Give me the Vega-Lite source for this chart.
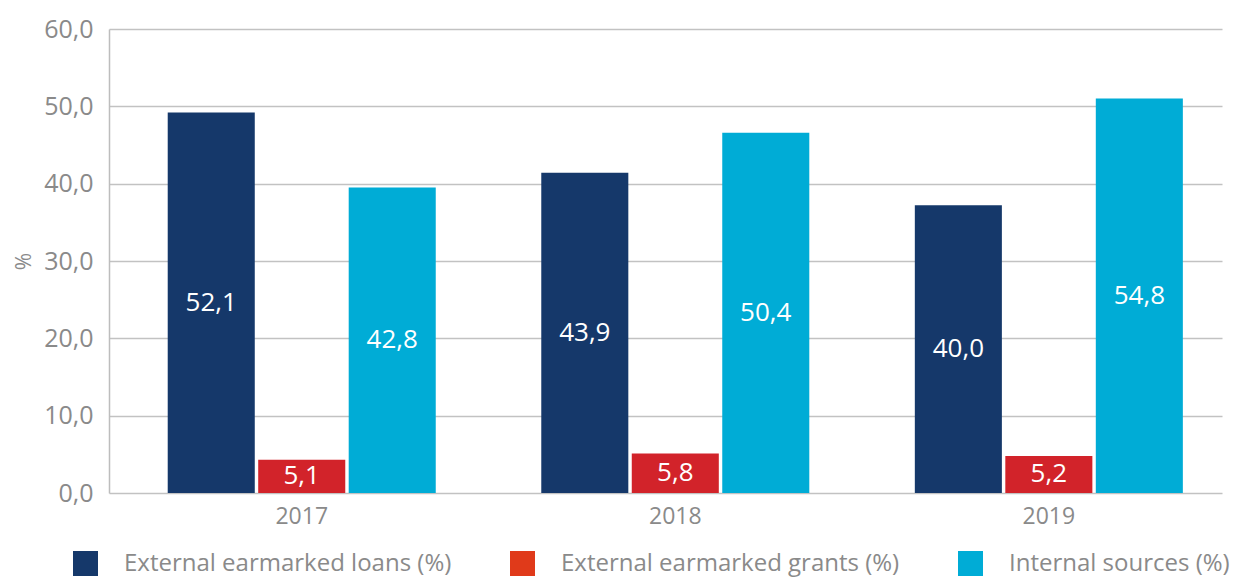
{
  "$schema": "https://vega.github.io/schema/vega-lite/v6.json",
  "width": 1113,
  "height": 464,
  "autosize": "none",
  "padding": {"left": 109, "top": 29, "right": 15, "bottom": 88},
  "background": "white",
  "config": {
    "font": "Open Sans",
    "locale": {"number": {"decimal": ",", "thousands": ".", "grouping": [3], "currency": ["", " €"]}},
    "view": {"stroke": null}
  },
  "data": {
    "values": [
      {"year": "2017", "series": "External earmarked loans (%)", "value": 52.1, "height": 49.2},
      {"year": "2017", "series": "External earmarked grants (%)", "value": 5.1, "height": 4.3},
      {"year": "2017", "series": "Internal sources (%)", "value": 42.8, "height": 39.5},
      {"year": "2018", "series": "External earmarked loans (%)", "value": 43.9, "height": 41.4},
      {"year": "2018", "series": "External earmarked grants (%)", "value": 5.8, "height": 5.1},
      {"year": "2018", "series": "Internal sources (%)", "value": 50.4, "height": 46.6},
      {"year": "2019", "series": "External earmarked loans (%)", "value": 40.0, "height": 37.2},
      {"year": "2019", "series": "External earmarked grants (%)", "value": 5.2, "height": 4.8},
      {"year": "2019", "series": "Internal sources (%)", "value": 54.8, "height": 51.0}
    ]
  },
  "encoding": {
    "x": {
      "field": "year",
      "type": "nominal",
      "scale": {"paddingInner": 0.2825, "paddingOuter": 0.131, "align": 0.6},
      "axis": {
        "title": null,
        "domain": false,
        "ticks": false,
        "labelAngle": 0,
        "labelPadding": 12,
        "labelFontSize": 23,
        "labelColor": "#8a8a8a"
      }
    },
    "xOffset": {
      "field": "series",
      "type": "nominal",
      "sort": ["External earmarked loans (%)", "External earmarked grants (%)", "Internal sources (%)"],
      "scale": {"paddingInner": 0.038, "paddingOuter": 0}
    }
  },
  "layer": [
    {
      "mark": {"type": "bar", "opacity": 0},
      "encoding": {
        "y": {
          "field": "height",
          "type": "quantitative",
          "scale": {"domain": [0, 60]},
          "axis": {
            "title": "%",
            "titleColor": "#8a8a8a",
            "titleFontSize": 21,
            "titleFontWeight": "normal",
            "titlePadding": 9,
            "values": [0, 10, 20, 30, 40, 50, 60],
            "format": ".1f",
            "ticks": false,
            "labelPadding": 16,
            "labelFontSize": 25,
            "labelColor": "#8a8a8a",
            "domain": true,
            "domainColor": "#bdbdbd",
            "domainWidth": 1.5,
            "grid": true,
            "gridColor": "#c2c2c2",
            "gridWidth": 1.5
          }
        },
        "color": {
          "field": "series",
          "type": "nominal",
          "sort": ["External earmarked loans (%)", "External earmarked grants (%)", "Internal sources (%)"],
          "scale": {
            "domain": ["External earmarked loans (%)", "External earmarked grants (%)", "Internal sources (%)"],
            "range": ["#15386a", "#e03a1a", "#00acd6"]
          },
          "legend": {
            "title": null,
            "orient": "none",
            "legendX": -36,
            "legendY": 522,
            "direction": "horizontal",
            "symbolType": "square",
            "symbolSize": 625,
            "symbolOpacity": 1,
            "symbolStrokeWidth": 0,
            "labelFontSize": 24,
            "labelColor": "#8a8a8a",
            "labelOffset": 26,
            "columnPadding": 58,
            "padding": 0,
            "labelLimit": 500
          }
        }
      }
    },
    {
      "mark": {"type": "bar"},
      "encoding": {
        "y": {"field": "height", "type": "quantitative"},
        "fill": {
          "field": "series",
          "type": "nominal",
          "scale": {
            "domain": ["External earmarked loans (%)", "External earmarked grants (%)", "Internal sources (%)"],
            "range": ["#15386a", "#d2232a", "#00acd6"]
          },
          "legend": null
        }
      }
    },
    {
      "transform": [{"calculate": "datum.height / 2", "as": "mid"}],
      "mark": {"type": "text", "color": "white", "fontSize": 26, "baseline": "middle"},
      "encoding": {
        "y": {"field": "mid", "type": "quantitative"},
        "text": {"field": "value", "type": "quantitative", "format": ".1f"}
      }
    }
  ]
}
